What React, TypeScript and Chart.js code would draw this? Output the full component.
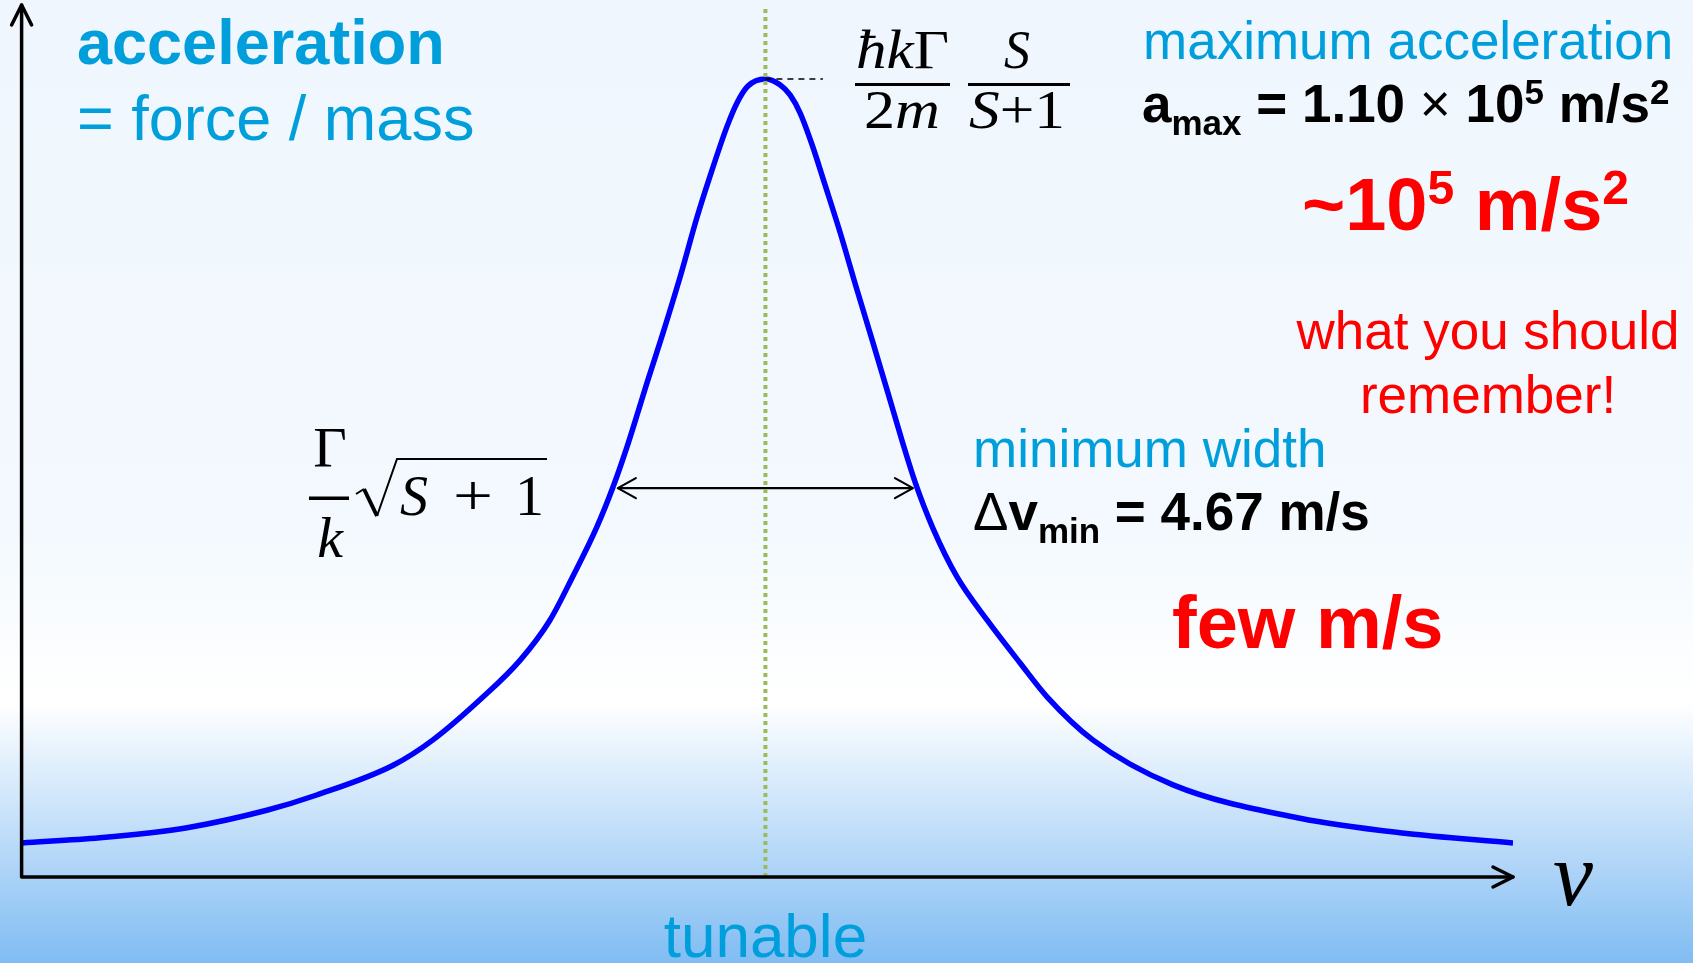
import React, { useEffect, useRef } from "react";
import { Chart, registerables } from "chart.js";

Chart.register(...registerables);

const W = 1693;
const H = 963;

// Velocity relative to resonance (m/s)
const velocity = [
  -11.76, -10.53, -9.15, -7.89, -7.1, -5.89, -5.26, -4.47, -3.88, -3.41, -3.05,
  -2.67, -2.41, -2.19, -1.86, -1.62, -1.35, -1.08, -0.88, -0.61, -0.45, -0.28, 0,
  0.23, 0.39, 0.55, 0.74, 0.94, 1.18, 1.43, 1.69, 1.94, 2.16, 2.37, 2.65, 3.03,
  3.51, 4.03, 4.46, 5.18, 6.45, 8.46, 10.04, 11.83,
];
// Radiation-pressure acceleration (units of 1e5 m/s^2)
const acceleration = [
  0.047, 0.054, 0.068, 0.092, 0.113, 0.154, 0.189, 0.248, 0.299, 0.354, 0.414,
  0.482, 0.538, 0.593, 0.685, 0.75, 0.827, 0.91, 0.965, 1.034, 1.067, 1.09, 1.1,
  1.092, 1.078, 1.053, 1.009, 0.955, 0.889, 0.815, 0.74, 0.667, 0.602, 0.544,
  0.481, 0.414, 0.354, 0.295, 0.248, 0.189, 0.127, 0.081, 0.061, 0.047,
];

const A_MAX = 1.1; // 1.10 x 10^5 m/s^2
const DV_MIN = 4.67; // m/s, full width
const WIDTH_LEVEL = 0.536;
const PEAK_TICK_END = 0.91;

const V_MIN = -11.77;
const V_MAX = 11.83;
const A_TOP = 1.202;
const MARKER_TOP = 1.2;

const BLUE = "#009FDB";
const RED = "#FF0000";
const SANS = '"Liberation Sans", Arial, sans-serif';
const SERIF = '"Liberation Serif", "Times New Roman", serif';

type Run = { t: string; font: string; dy?: number; color?: string };

function runsWidth(ctx: CanvasRenderingContext2D, runs: Run[]) {
  let w = 0;
  for (const r of runs) {
    ctx.font = r.font;
    w += ctx.measureText(r.t).width;
  }
  return w;
}

function drawRuns(
  ctx: CanvasRenderingContext2D,
  x: number,
  y: number,
  runs: Run[],
  color: string
) {
  let cx = x;
  for (const r of runs) {
    ctx.font = r.font;
    ctx.fillStyle = r.color ?? color;
    ctx.fillText(r.t, cx, y + (r.dy ?? 0));
    cx += ctx.measureText(r.t).width;
  }
}

function drawRunsFit(
  ctx: CanvasRenderingContext2D,
  x: number,
  y: number,
  runs: Run[],
  color: string,
  width: number
) {
  const w = runsWidth(ctx, runs);
  ctx.save();
  ctx.translate(x, y);
  ctx.scale(width / w, 1);
  drawRuns(ctx, 0, 0, runs, color);
  ctx.restore();
}

function chevron(
  ctx: CanvasRenderingContext2D,
  tipX: number,
  tipY: number,
  dirX: number,
  dirY: number,
  len: number,
  half: number
) {
  // open arrowhead pointing along (dirX, dirY)
  const px = -dirY;
  const py = dirX;
  ctx.beginPath();
  ctx.moveTo(tipX - dirX * len + px * half, tipY - dirY * len + py * half);
  ctx.lineTo(tipX, tipY);
  ctx.lineTo(tipX - dirX * len - px * half, tipY - dirY * len - py * half);
  ctx.stroke();
}

const backgroundPlugin = {
  id: "slideBackground",
  beforeDraw(chart: Chart) {
    const ctx = chart.ctx;
    const g = ctx.createLinearGradient(0, 0, 0, chart.height);
    g.addColorStop(0, "#EFF6FD");
    g.addColorStop(0.55, "#F3F9FE");
    g.addColorStop(0.73, "#FFFFFF");
    g.addColorStop(1, "#80BCF3");
    ctx.save();
    ctx.fillStyle = g;
    ctx.fillRect(0, 0, chart.width, chart.height);
    ctx.restore();
  },
};

const annotationPlugin = {
  id: "slideAnnotations",
  afterDraw(chart: Chart) {
    const ctx = chart.ctx;
    const xs = chart.scales.x;
    const ys = chart.scales.y;
    const x0 = xs.getPixelForValue(V_MIN);
    const x1 = xs.getPixelForValue(V_MAX);
    const y0 = ys.getPixelForValue(0);
    const yTop = ys.getPixelForValue(A_TOP);

    ctx.save();
    ctx.strokeStyle = "#000";
    ctx.lineCap = "round";
    ctx.lineJoin = "round";

    // axes with open arrowheads
    ctx.lineWidth = 3.5;
    ctx.beginPath();
    ctx.moveTo(x0, y0);
    ctx.lineTo(x0, yTop);
    ctx.moveTo(x0, y0);
    ctx.lineTo(x1, y0);
    ctx.stroke();
    chevron(ctx, x0, yTop, 0, -1, 20, 10);
    chevron(ctx, x1, y0, 1, 0, 20, 10);

    // arrowheads of the width marker
    ctx.lineWidth = 2.2;
    const wy = ys.getPixelForValue(WIDTH_LEVEL);
    chevron(ctx, xs.getPixelForValue(-DV_MIN / 2), wy, -1, 0, 18, 10);
    chevron(ctx, xs.getPixelForValue(DV_MIN / 2), wy, 1, 0, 18, 10);

    ctx.textBaseline = "alphabetic";
    ctx.textAlign = "left";

    // left headline
    drawRuns(ctx, 77, 64, [{ t: "acceleration", font: `bold 63px ${SANS}` }], BLUE);
    drawRuns(ctx, 77, 140, [{ t: "= force / mass", font: `63px ${SANS}` }], BLUE);

    // maximum acceleration block
    drawRuns(ctx, 1143, 59, [{ t: "maximum acceleration", font: `53px ${SANS}` }], BLUE);
    const B53 = `bold 53px ${SANS}`;
    const R53 = `53px ${SANS}`;
    const B35 = `bold 35px ${SANS}`;
    drawRuns(
      ctx,
      1142,
      122,
      [
        { t: "a", font: B53 },
        { t: "max", font: B35, dy: 13 },
        { t: " = 1.10 ", font: B53 },
        { t: "\u00D7", font: R53 },
        { t: " 10", font: B53 },
        { t: "5", font: B35, dy: -18 },
        { t: " m/s", font: B53 },
        { t: "2", font: B35, dy: -18 },
      ],
      "#000"
    );
    const B74 = `bold 74px ${SANS}`;
    const B48 = `bold 48px ${SANS}`;
    drawRuns(
      ctx,
      1302,
      230,
      [
        { t: "~10", font: B74 },
        { t: "5", font: B48, dy: -26 },
        { t: " m/s", font: B74 },
        { t: "2", font: B48, dy: -26 },
      ],
      RED
    );

    ctx.textAlign = "center";
    ctx.font = `53px ${SANS}`;
    ctx.fillStyle = RED;
    ctx.fillText("what you should", 1488, 349);
    ctx.fillText("remember!", 1488, 413);
    ctx.textAlign = "left";

    // minimum width block
    drawRuns(ctx, 973, 467, [{ t: "minimum width", font: `53px ${SANS}` }], BLUE);
    drawRuns(
      ctx,
      973,
      530,
      [
        { t: "\u0394", font: R53 },
        { t: "v", font: B53 },
        { t: "min", font: B35, dy: 13 },
        { t: " = 4.67 m/s", font: B53 },
      ],
      "#000"
    );
    drawRuns(ctx, 1172, 648, [{ t: "few m/s", font: B74 }], RED);

    // axis captions
    ctx.textAlign = "center";
    ctx.font = `62px ${SANS}`;
    ctx.fillStyle = BLUE;
    ctx.fillText("tunable", xs.getPixelForValue(0), 957);
    ctx.textAlign = "left";
    ctx.font = `italic 90px ${SERIF}`;
    ctx.fillStyle = "#000";
    ctx.fillText("v", 1553, 905);

    // peak formula: (hbar k Gamma / 2m) (S / (S+1))
    const I54 = `italic 54px ${SERIF}`;
    const R54 = `54px ${SERIF}`;
    drawRunsFit(
      ctx,
      856,
      68,
      [
        { t: "\u0127", font: I54 },
        { t: "k", font: I54 },
        { t: "\u0393", font: R54 },
      ],
      "#000",
      93
    );
    drawRunsFit(
      ctx,
      864,
      128,
      [
        { t: "2", font: R54 },
        { t: "m", font: I54 },
      ],
      "#000",
      76
    );
    drawRunsFit(ctx, 1004, 68, [{ t: "S", font: I54 }], "#000", 26);
    drawRunsFit(
      ctx,
      969,
      128,
      [
        { t: "S", font: I54 },
        { t: "+1", font: R54 },
      ],
      "#000",
      96
    );
    ctx.fillStyle = "#000";
    ctx.fillRect(855, 83, 95, 3);
    ctx.fillRect(968, 83, 102, 3);

    // width formula: (Gamma / k) sqrt(S + 1)
    const I58 = `italic 58px ${SERIF}`;
    const R58 = `58px ${SERIF}`;
    ctx.textAlign = "center";
    ctx.font = R58;
    ctx.fillText("\u0393", 330, 467);
    ctx.font = I58;
    ctx.fillText("k", 330, 557);
    ctx.textAlign = "left";
    ctx.fillRect(309, 496.5, 40, 3.5);

    ctx.lineCap = "butt";
    ctx.lineJoin = "miter";
    ctx.lineWidth = 2;
    ctx.beginPath();
    ctx.moveTo(356, 494);
    ctx.lineTo(364, 489);
    ctx.stroke();
    ctx.lineWidth = 4;
    ctx.beginPath();
    ctx.moveTo(364, 489);
    ctx.lineTo(377, 516);
    ctx.stroke();
    ctx.lineWidth = 2;
    ctx.beginPath();
    ctx.moveTo(377, 516);
    ctx.lineTo(397, 459);
    ctx.lineTo(547, 459);
    ctx.stroke();

    drawRunsFit(ctx, 400, 515, [{ t: "S", font: I58 }], "#000", 28);
    drawRunsFit(ctx, 453, 515, [{ t: "+", font: R58 }], "#000", 40);
    drawRuns(ctx, 515, 515, [{ t: "1", font: R58 }], "#000");

    ctx.restore();
  },
};

export default function App() {
  const canvasRef = useRef<HTMLCanvasElement | null>(null);

  useEffect(() => {
    const canvas = canvasRef.current;
    if (!canvas) return;
    const curve = velocity.map((v, i) => ({ x: v, y: acceleration[i] }));
    const chart = new Chart(canvas, {
      type: "line",
      data: {
        datasets: [
          {
            label: "peak level",
            data: [
              { x: 0, y: A_MAX },
              { x: PEAK_TICK_END, y: A_MAX },
            ],
            borderColor: "#000",
            borderWidth: 1.6,
            borderDash: [6, 5],
            pointRadius: 0,
            order: 0,
          },
          {
            label: "resonance",
            data: [
              { x: 0, y: 0 },
              { x: 0, y: MARKER_TOP },
            ],
            borderColor: "#9BBB59",
            borderWidth: 4,
            borderDash: [4, 4],
            pointRadius: 0,
            order: 1,
          },
          {
            label: "minimum width",
            data: [
              { x: -DV_MIN / 2, y: WIDTH_LEVEL },
              { x: DV_MIN / 2, y: WIDTH_LEVEL },
            ],
            borderColor: "#000",
            borderWidth: 2.2,
            pointRadius: 0,
            order: 2,
          },
          {
            label: "acceleration",
            data: curve,
            borderColor: "#0000FF",
            borderWidth: 5.5,
            pointRadius: 0,
            cubicInterpolationMode: "monotone",
            order: 3,
          },
        ],
      },
      options: {
        responsive: false,
        animation: false,
        devicePixelRatio: 1,
        events: [],
        layout: { padding: { left: 21.6, right: 180, top: 5, bottom: 86 } },
        scales: {
          x: { type: "linear", min: V_MIN, max: V_MAX, display: false },
          y: { type: "linear", min: 0, max: A_TOP, display: false },
        },
        plugins: {
          legend: { display: false },
          tooltip: { enabled: false },
        },
      },
      plugins: [backgroundPlugin, annotationPlugin],
    });
    return () => chart.destroy();
  }, []);

  return (
    <div style={{ position: "fixed", left: 0, top: 0, width: W, height: H }}>
      <canvas ref={canvasRef} width={W} height={H} style={{ display: "block" }} />
    </div>
  );
}
